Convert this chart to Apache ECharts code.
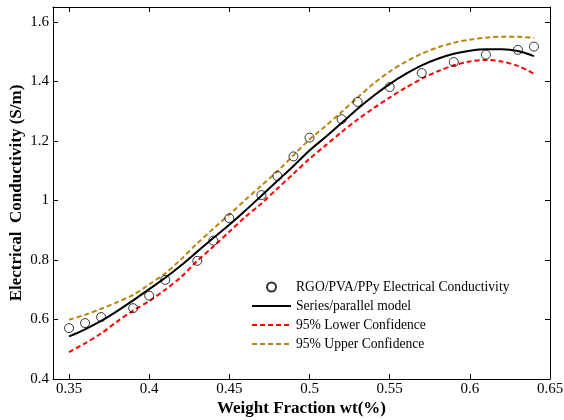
<!DOCTYPE html>
<html>
<head>
<meta charset="utf-8">
<script src="https://cdn.jsdelivr.net/npm/echarts@6/dist/echarts.min.js"></script>
<style>html,body{margin:0;padding:0;background:#fff}#c{width:564px;height:420px}</style>
</head>
<body>
<div id="c"></div>
<script>
// measured data
var xData = [0.35,0.36,0.37,0.39,0.40,0.41,0.43,0.44,0.45,0.47,0.48,0.49,0.50,0.52,0.53,0.55,0.57,0.59,0.61,0.63,0.64];
var yData = [0.571,0.588,0.608,0.638,0.680,0.733,0.797,0.865,0.940,1.018,1.082,1.148,1.211,1.273,1.331,1.381,1.428,1.465,1.490,1.506,1.517];
// fitted curves
var xFit = [0.35,0.36,0.37,0.38,0.39,0.40,0.41,0.42,0.43,0.44,0.45,0.46,0.47,0.48,0.49,0.50,0.51,0.52,0.53,0.54,0.55,0.56,0.57,0.58,0.59,0.60,0.61,0.62,0.63,0.64];
var yModel = [0.543,0.567,0.595,0.628,0.664,0.702,0.740,0.782,0.828,0.874,0.918,0.966,1.016,1.066,1.116,1.168,1.213,1.260,1.308,1.352,1.391,1.425,1.454,1.476,1.493,1.503,1.508,1.508,1.502,1.485];
var yLower = [0.490,0.520,0.553,0.593,0.630,0.662,0.700,0.743,0.797,0.845,0.895,0.945,0.990,1.040,1.090,1.140,1.185,1.230,1.272,1.310,1.346,1.379,1.409,1.434,1.454,1.467,1.472,1.467,1.452,1.426];
var yUpper = [0.599,0.616,0.636,0.658,0.683,0.718,0.755,0.803,0.856,0.905,0.953,1.002,1.050,1.098,1.152,1.205,1.250,1.297,1.346,1.393,1.433,1.466,1.493,1.514,1.530,1.540,1.547,1.550,1.550,1.546];
var xTicks = [0.35,0.4,0.45,0.5,0.55,0.6,0.65];
var yTicks = [0.4,0.6,0.8,1.0,1.2,1.4,1.6];
var names = ['RGO/PVA/PPy Electrical Conductivity','Series/parallel model','95% Lower Confidence','95% Upper Confidence'];

function pairs(xs, ys){ return xs.map(function(x,i){return [x, ys[i]];}); }
var serif = '"Liberation Serif", "Times New Roman", serif';
var chart = echarts.init(document.getElementById('c'));
var axisLine = {show:true, lineStyle:{color:'#000', width:1}};
chart.setOption({
  animation:false,
  grid:{left:53, right:14, top:7, bottom:41, containLabel:false, outerBoundsMode:'none'},
  legend:{
    orient:'vertical', left:246, top:275, itemWidth:39, itemHeight:9, itemGap:5,
    textStyle:{fontFamily:serif, fontSize:13.6, color:'#000'},
    data:[
      {name:names[0]},
      {name:names[1], itemStyle:{opacity:0}},
      {name:names[2], itemStyle:{opacity:0}},
      {name:names[3], itemStyle:{opacity:0}}
    ]
  },
  xAxis:[{
    type:'value', min:0.34, max:0.65, position:'bottom',
    name:'Weight Fraction wt(%)', nameLocation:'middle', nameGap:21, nameMoveOverlap:false,
    nameTextStyle:{fontFamily:serif, fontSize:17, fontWeight:'bold', color:'#000'},
    axisLine:axisLine, splitLine:{show:false},
    axisTick:{show:true, inside:true, length:5, customValues:xTicks, lineStyle:{color:'#000'}},
    axisLabel:{customValues:xTicks, fontFamily:serif, fontSize:15, color:'#000', margin:3,
      formatter:function(v){return String(Math.round(v*100)/100);}}
  },{
    type:'value', min:0.34, max:0.65, position:'top',
    axisLine:axisLine, splitLine:{show:false},
    axisTick:{show:true, inside:true, length:5, customValues:xTicks, lineStyle:{color:'#000'}},
    axisLabel:{show:false}
  }],
  yAxis:[{
    type:'value', min:0.4, max:1.65, position:'left',
    name:'Electrical  Conductivity (S/m)', nameLocation:'middle', nameGap:28, nameRotate:90, nameMoveOverlap:false,
    nameTextStyle:{fontFamily:serif, fontSize:17, fontWeight:'bold', color:'#000'},
    axisLine:axisLine, splitLine:{show:false},
    axisTick:{show:true, inside:true, length:5, customValues:yTicks, lineStyle:{color:'#000'}},
    axisLabel:{customValues:yTicks, fontFamily:serif, fontSize:15, color:'#000', margin:4,
      formatter:function(v){return String(Math.round(v*10)/10);}}
  },{
    type:'value', min:0.4, max:1.65, position:'right',
    axisLine:axisLine, splitLine:{show:false},
    axisTick:{show:true, inside:true, length:5, customValues:yTicks, lineStyle:{color:'#000'}},
    axisLabel:{show:false}
  }],
  series:[
    {name:names[0], type:'scatter', data:pairs(xData,yData), symbol:'circle', symbolSize:9, z:5,
      itemStyle:{color:'rgba(255,255,255,0)', borderColor:'#000', borderWidth:1}},
    {name:names[1], type:'line', data:pairs(xFit,yModel), showSymbol:false, symbol:'none', smooth:0.3,
      itemStyle:{color:'#000'}, lineStyle:{color:'#000', width:2}},
    {name:names[2], type:'line', data:pairs(xFit,yLower), showSymbol:false, symbol:'none', smooth:0.3,
      itemStyle:{color:'#ff0000'}, lineStyle:{color:'#ff0000', width:2, type:[5,3]}},
    {name:names[3], type:'line', data:pairs(xFit,yUpper), showSymbol:false, symbol:'none', smooth:0.3,
      itemStyle:{color:'#b8860b'}, lineStyle:{color:'#b8860b', width:2, type:[5,3]}}
  ]
});
</script>
</body>
</html>
